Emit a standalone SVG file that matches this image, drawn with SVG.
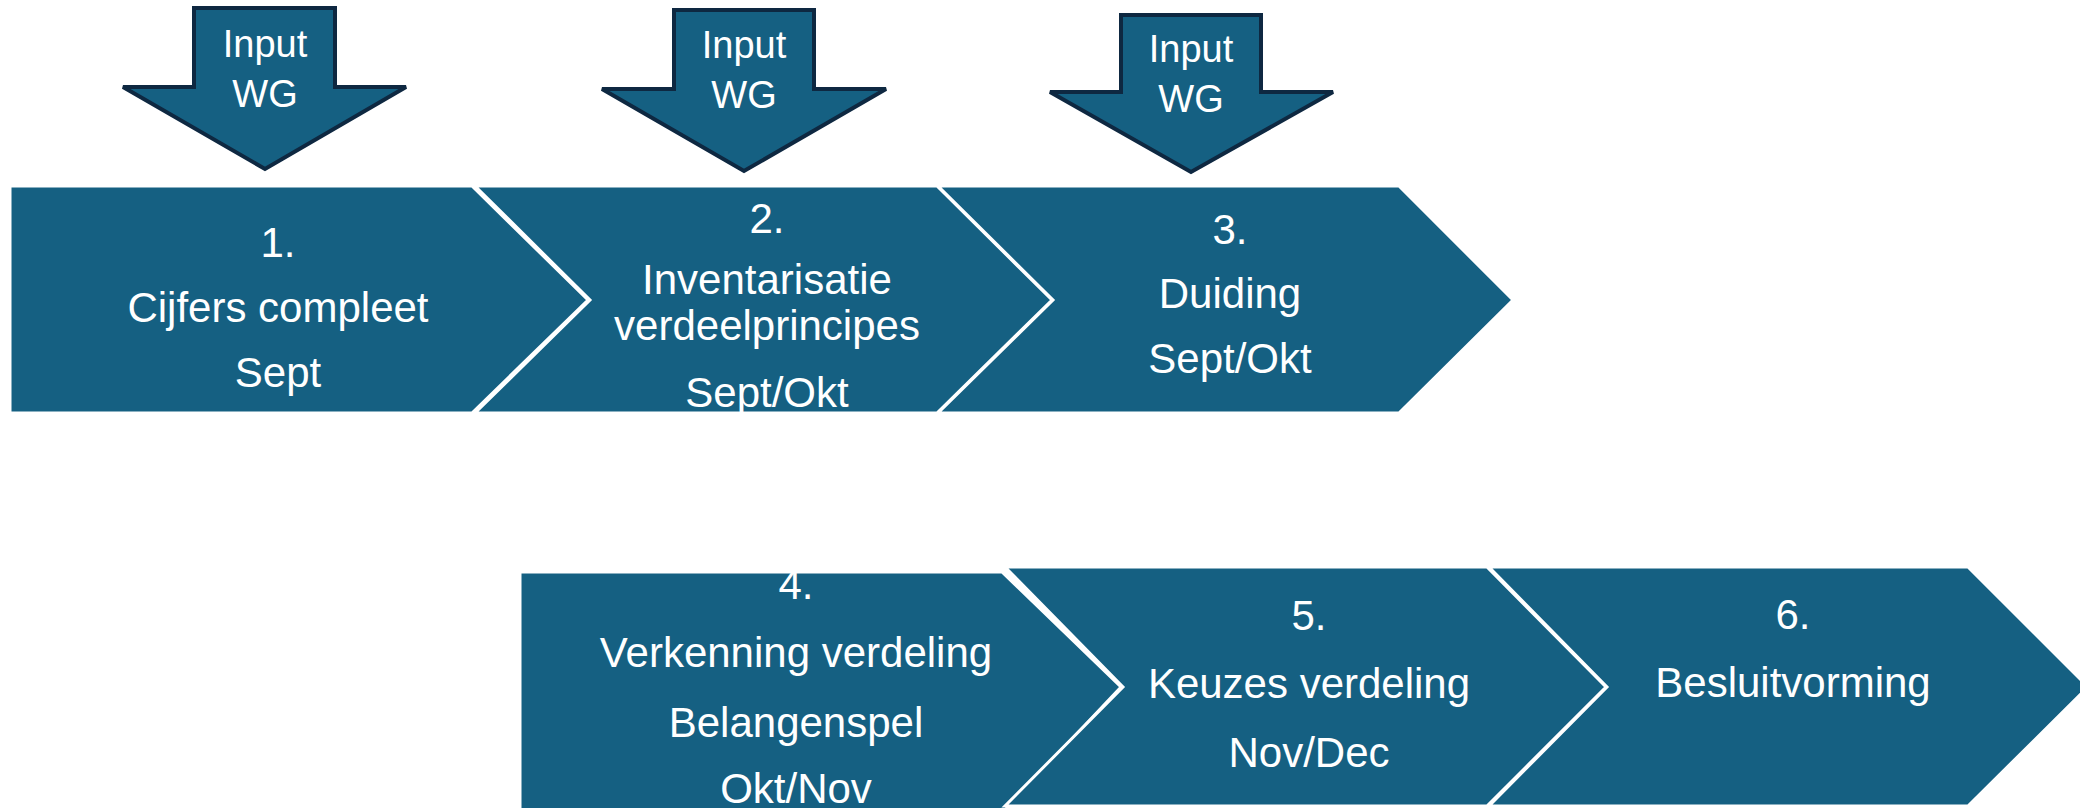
<svg xmlns="http://www.w3.org/2000/svg" width="2080" height="808" viewBox="0 0 2080 808">
<style>
.chev{fill:#156082;stroke:#ffffff;stroke-width:3;stroke-linejoin:miter}
.inp{fill:#156082;stroke:#0e2841;stroke-width:4;stroke-linejoin:miter;stroke-miterlimit:3}
.t{font-family:"Liberation Sans",Arial,sans-serif;fill:#ffffff;text-anchor:middle}
.tc{font-size:42px}
.ta{font-size:38px}
</style>
<rect width="2080" height="808" fill="#ffffff"/>
<g id="step1">
<polygon class="chev" points="10,186 472,186 588,300 472,413 10,413"/>
<text class="t tc" x="278" y="257">1.</text>
<text class="t tc" x="278" y="322">Cijfers compleet</text>
<text class="t tc" x="278" y="387">Sept</text>
</g>
<g id="step2">
<polygon class="chev" points="475,186 937,186 1052,300 937,413 475,413 590,300"/>
<text class="t tc" x="767" y="233">2.</text>
<text class="t tc" x="767" y="294">Inventarisatie</text>
<text class="t tc" x="767" y="340">verdeelprincipes</text>
<text class="t tc" x="767" y="407">Sept/Okt</text>
</g>
<g id="step3">
<polygon class="chev" points="938,186 1399,186 1513,300 1399,413 938,413 1053,300"/>
<text class="t tc" x="1230" y="244">3.</text>
<text class="t tc" x="1230" y="308">Duiding</text>
<text class="t tc" x="1230" y="373">Sept/Okt</text>
</g>
<g id="step4">
<polygon class="chev" points="520,572 1002,572 1121,687 1003,812 520,812"/>
<text class="t tc" x="796" y="599">4.</text>
<text class="t tc" x="796" y="667">Verkenning verdeling</text>
<text class="t tc" x="796" y="737">Belangenspel</text>
<text class="t tc" x="796" y="803">Okt/Nov</text>
</g>
<g id="step5">
<polygon class="chev" points="1005,567 1487,567 1606,687 1487,806 1005,806 1123,687"/>
<text class="t tc" x="1309" y="630">5.</text>
<text class="t tc" x="1309" y="698">Keuzes verdeling</text>
<text class="t tc" x="1309" y="767">Nov/Dec</text>
</g>
<g id="step6">
<polygon class="chev" points="1489,567 1968,567 2088,687 1968,806 1489,806 1607,687"/>
<text class="t tc" x="1793" y="629">6.</text>
<text class="t tc" x="1793" y="697">Besluitvorming</text>
</g>
<g id="input1">
<polygon class="inp" points="194,8 335,8 335,87 406,87 265,169 123,87 194,87"/>
<text class="t ta" x="265" y="57">Input</text>
<text class="t ta" x="265" y="107">WG</text>
</g>
<g id="input2">
<polygon class="inp" points="674,10 814,10 814,89 886,89 744,171 602,89 674,89"/>
<text class="t ta" x="744" y="58">Input</text>
<text class="t ta" x="744" y="108">WG</text>
</g>
<g id="input3">
<polygon class="inp" points="1121,15 1261,15 1261,92 1333,92 1191,172 1050,92 1121,92"/>
<text class="t ta" x="1191" y="62">Input</text>
<text class="t ta" x="1191" y="112">WG</text>
</g>
<g id="connectors"></g>
</svg>
